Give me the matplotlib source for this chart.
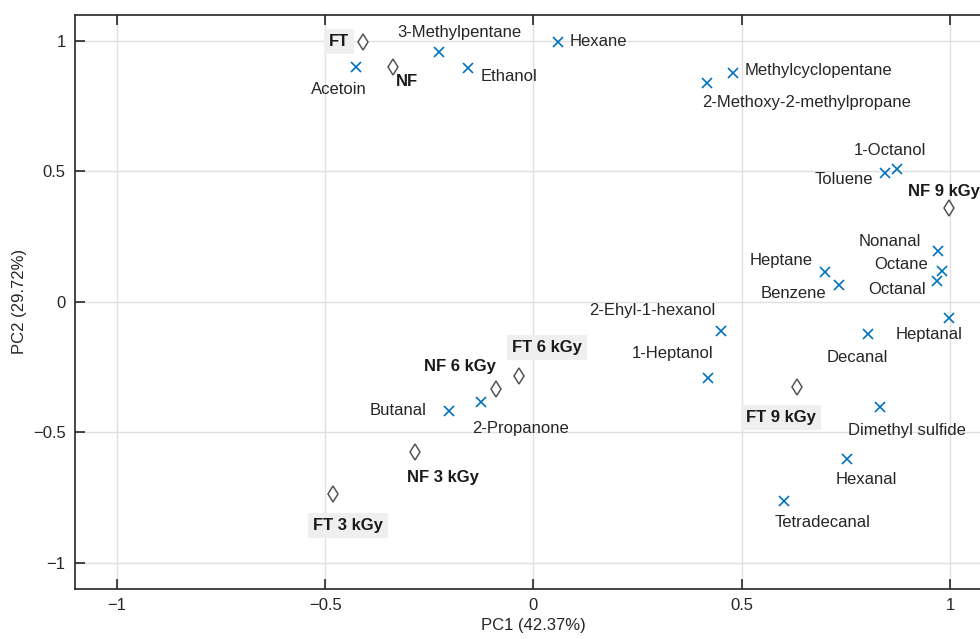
import numpy as np
import matplotlib.pyplot as plt

# sample scores (diamonds)
sample_names = ['FT', 'NF', 'NF 9 kGy', 'FT 6 kGy', 'NF 6 kGy', 'FT 9 kGy', 'NF 3 kGy', 'FT 3 kGy']
sample_x = [-0.408, -0.337, 0.998, -0.035, -0.089, 0.632, -0.285, -0.481]
sample_y = [0.997, 0.901, 0.358, -0.285, -0.334, -0.327, -0.575, -0.738]

# variable loadings (crosses)
var_names = ['Acetoin', '3-Methylpentane', 'Ethanol', 'Hexane', 'Methylcyclopentane',
             '2-Methoxy-2-methylpropane', '1-Octanol', 'Toluene', 'Nonanal', 'Octane',
             'Octanal', 'Heptane', 'Benzene', 'Heptanal', 'Decanal', '2-Ehyl-1-hexanol',
             '1-Heptanol', 'Butanal', '2-Propanone', 'Dimethyl sulfide', 'Hexanal', 'Tetradecanal']
var_x = [-0.427, -0.227, -0.157, 0.058, 0.479, 0.416, 0.872, 0.844, 0.972, 0.982,
         0.970, 0.700, 0.733, 0.998, 0.804, 0.450, 0.419, -0.203, -0.127, 0.832, 0.752, 0.602]
var_y = [0.901, 0.957, 0.895, 0.997, 0.877, 0.839, 0.508, 0.493, 0.195, 0.119,
         0.079, 0.113, 0.066, -0.063, -0.125, -0.112, -0.293, -0.417, -0.383, -0.405, -0.603, -0.763]

# label placement: (dx, dy in pixels, ha)
sample_off = [(-14, 0, 'right'), (3, -15, 'left'), (-41, 17, 'left'), (-7, 29, 'left'),
              (0, 22, 'right'), (-16, -30, 'center'), (-8, -26, 'left'), (-20, -31, 'left')]
var_off = [(-17, -23, 'center'), (21, 20, 'center'), (13, -8, 'left'), (12, 0, 'left'),
           (12, 3, 'left'), (-5, -20, 'left'), (-7, 19, 'center'), (-12, -6, 'right'),
           (-17, 9, 'right'), (-14, 6, 'right'), (-12, -8, 'right'), (-12, 12, 'right'),
           (-12, -9, 'right'), (-53, -16, 'left'), (-11, -23, 'center'), (-5, 21, 'right'),
           (5, 25, 'right'), (-22, 0, 'right'), (-8, -27, 'left'), (-32, -23, 'left'),
           (20, -20, 'center'), (38, -22, 'center')]

plt.rcParams['font.family'] = ['Liberation Sans', 'DejaVu Sans']
plt.rcParams['font.size'] = 12

fig = plt.figure(figsize=(9.8, 6.39), dpi=100)
ax = fig.add_axes([0.0768, 0.0787, 0.935, 0.898])

ax.grid(True, color='#e0e0e0', linewidth=1)
ax.set_axisbelow(True)

ax.plot(var_x, var_y, 'x', color='#0072BD', markersize=7.5, markeredgewidth=1.2, zorder=3)
ax.plot(sample_x, sample_y, 'd', markerfacecolor='white', markeredgecolor='#555555',
        markersize=8, markeredgewidth=1.1, zorder=3)

for name, x, y, (dx, dy, ha) in zip(var_names, var_x, var_y, var_off):
    ax.annotate(name, (x, y), xytext=(dx, dy), textcoords='offset pixels',
                ha=ha, va='center', fontsize=12, color='#262626', zorder=4)

for name, x, y, (dx, dy, ha) in zip(sample_names, sample_x, sample_y, sample_off):
    bbox = None
    if name.startswith('FT'):
        bbox = dict(boxstyle='square,pad=0.3', facecolor='#efefef', edgecolor='none')
    ax.annotate(name, (x, y), xytext=(dx, dy), textcoords='offset pixels',
                ha=ha, va='center', fontsize=12, fontweight='bold', color='#1a1a1a',
                bbox=bbox, zorder=4)

ax.set_xlim(-1.1, 1.1)
ax.set_ylim(-1.1, 1.1)
ax.set_xticks([-1, -0.5, 0, 0.5, 1])
ax.set_yticks([-1, -0.5, 0, 0.5, 1])
ax.set_xticklabels(['\u22121', '\u22120.5', '0', '0.5', '1'])
ax.set_yticklabels(['\u22121', '\u22120.5', '0', '0.5', '1'])
ax.tick_params(direction='in', length=7, width=1.2, color='#262626',
               top=True, right=True, pad=7, labelcolor='#262626', labelsize=12)
for s in ax.spines.values():
    s.set_color('#262626')
    s.set_linewidth(1.2)

ax.set_xlabel('PC1 (42.37%)', color='#262626', labelpad=3)
ax.set_ylabel('PC2 (29.72%)', color='#262626', labelpad=4)

fig.savefig('out.png', dpi=100)
